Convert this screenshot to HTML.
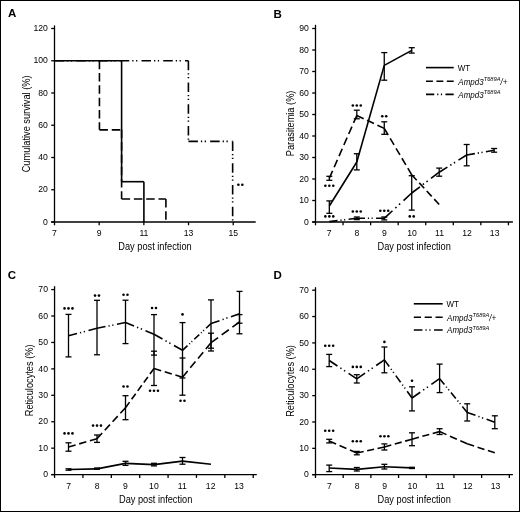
<!DOCTYPE html><html><head><meta charset="utf-8"><style>html,body{margin:0;padding:0;background:#fff;}svg{display:block;filter:grayscale(1);}</style></head><body>
<svg width="520" height="512" viewBox="0 0 520 512" font-family='"Liberation Sans", sans-serif' fill="#000" stroke="#000">
<rect x="0" y="0" width="520" height="512" fill="#fff" stroke="none"/>
<rect x="0.5" y="0.5" width="519" height="511" fill="none" stroke="#000" stroke-width="1"/>
<g stroke="none">
<text x="8" y="17.2" font-size="11.5" font-weight="bold">A</text>
<text x="273.6" y="17.6" font-size="11.5" font-weight="bold">B</text>
<text x="7.8" y="279.2" font-size="11.5" font-weight="bold">C</text>
<text x="273.6" y="279.2" font-size="11.5" font-weight="bold">D</text>
</g>
<g fill="none">
<line x1="54.5" y1="25.4" x2="54.5" y2="225.3" stroke-width="1.3" stroke-linecap="butt"/>
<line x1="51.2" y1="222" x2="255.7" y2="222" stroke-width="1.3" stroke-linecap="butt"/>
<line x1="51.2" y1="222" x2="54.5" y2="222" stroke-width="1.3" stroke-linecap="butt"/>
<line x1="51.2" y1="189.75" x2="54.5" y2="189.75" stroke-width="1.3" stroke-linecap="butt"/>
<line x1="51.2" y1="157.5" x2="54.5" y2="157.5" stroke-width="1.3" stroke-linecap="butt"/>
<line x1="51.2" y1="125.25" x2="54.5" y2="125.25" stroke-width="1.3" stroke-linecap="butt"/>
<line x1="51.2" y1="93" x2="54.5" y2="93" stroke-width="1.3" stroke-linecap="butt"/>
<line x1="51.2" y1="60.75" x2="54.5" y2="60.75" stroke-width="1.3" stroke-linecap="butt"/>
<line x1="51.2" y1="28.5" x2="54.5" y2="28.5" stroke-width="1.3" stroke-linecap="butt"/>
<line x1="99.18" y1="222" x2="99.18" y2="225.3" stroke-width="1.3" stroke-linecap="butt"/>
<line x1="143.86" y1="222" x2="143.86" y2="225.3" stroke-width="1.3" stroke-linecap="butt"/>
<line x1="188.54" y1="222" x2="188.54" y2="225.3" stroke-width="1.3" stroke-linecap="butt"/>
<line x1="233.22" y1="222" x2="233.22" y2="225.3" stroke-width="1.3" stroke-linecap="butt"/>
<line x1="54.5" y1="60.75" x2="121.6" y2="60.75" stroke-width="1.6" stroke-linecap="butt"/>
<line x1="121.6" y1="60.75" x2="121.6" y2="181.69" stroke-width="1.6" stroke-linecap="butt"/>
<line x1="121.6" y1="181.69" x2="143.9" y2="181.69" stroke-width="1.6" stroke-linecap="butt"/>
<line x1="143.9" y1="181.69" x2="143.9" y2="222" stroke-width="1.6" stroke-linecap="butt"/>
<line x1="99.44" y1="60.75" x2="99.44" y2="129.86" stroke-width="1.6" stroke-dasharray="8.5 3.8" stroke-linecap="butt"/>
<line x1="99.44" y1="129.86" x2="121.6" y2="129.86" stroke-width="1.6" stroke-dasharray="8.5 3.8" stroke-linecap="butt"/>
<line x1="121.6" y1="129.86" x2="121.6" y2="198.96" stroke-width="1.6" stroke-dasharray="8.5 3.8" stroke-linecap="butt"/>
<line x1="121.6" y1="198.96" x2="165.9" y2="198.96" stroke-width="1.6" stroke-dasharray="8.5 3.8" stroke-linecap="butt"/>
<line x1="165.9" y1="198.96" x2="165.9" y2="222" stroke-width="1.6" stroke-dasharray="8.5 3.8" stroke-linecap="butt"/>
<line x1="54.5" y1="60.75" x2="188.4" y2="60.75" stroke-width="1.6" stroke-dasharray="9.5 3 1.3 2.5 1.3 4.15" stroke-linecap="butt"/>
<line x1="188.4" y1="60.75" x2="188.4" y2="141.38" stroke-width="1.6" stroke-dasharray="9.5 3 1.3 2.5 1.3 4.15" stroke-linecap="butt"/>
<line x1="188.4" y1="141.38" x2="232.65" y2="141.38" stroke-width="1.6" stroke-dasharray="9.5 3 1.3 2.5 1.3 4.15" stroke-linecap="butt"/>
<line x1="232.65" y1="141.38" x2="232.65" y2="222" stroke-width="1.6" stroke-dasharray="9.5 3 1.3 2.5 1.3 4.15" stroke-linecap="butt"/>
</g>
<g stroke="none">
<text transform="translate(47.8 224.7) scale(0.94 1)" font-size="9.2" text-anchor="end" font-weight="normal" font-style="normal">0</text>
<text transform="translate(47.8 192.45) scale(0.94 1)" font-size="9.2" text-anchor="end" font-weight="normal" font-style="normal">20</text>
<text transform="translate(47.8 160.2) scale(0.94 1)" font-size="9.2" text-anchor="end" font-weight="normal" font-style="normal">40</text>
<text transform="translate(47.8 127.95) scale(0.94 1)" font-size="9.2" text-anchor="end" font-weight="normal" font-style="normal">60</text>
<text transform="translate(47.8 95.7) scale(0.94 1)" font-size="9.2" text-anchor="end" font-weight="normal" font-style="normal">80</text>
<text transform="translate(47.8 63.45) scale(0.94 1)" font-size="9.2" text-anchor="end" font-weight="normal" font-style="normal">100</text>
<text transform="translate(47.8 31.2) scale(0.94 1)" font-size="9.2" text-anchor="end" font-weight="normal" font-style="normal">120</text>
<text transform="translate(54.5 235.6) scale(0.94 1)" font-size="9.2" text-anchor="middle" font-weight="normal" font-style="normal">7</text>
<text transform="translate(99.18 235.6) scale(0.94 1)" font-size="9.2" text-anchor="middle" font-weight="normal" font-style="normal">9</text>
<text transform="translate(143.86 235.6) scale(0.94 1)" font-size="9.2" text-anchor="middle" font-weight="normal" font-style="normal">11</text>
<text transform="translate(188.54 235.6) scale(0.94 1)" font-size="9.2" text-anchor="middle" font-weight="normal" font-style="normal">13</text>
<text transform="translate(233.22 235.6) scale(0.94 1)" font-size="9.2" text-anchor="middle" font-weight="normal" font-style="normal">15</text>
<text transform="translate(155 249.7) scale(0.88 1)" font-size="10.5" text-anchor="middle" font-weight="normal" font-style="normal">Day post infection</text>
<text transform="translate(30.3 123.9) rotate(-90) scale(0.88 1)" font-size="10.5" text-anchor="middle" font-weight="normal" font-style="normal">Cumulative survival (%)</text>
<circle cx="238.38" cy="184.8" r="1.3"/>
<circle cx="242.32" cy="184.8" r="1.3"/>
</g>
<g fill="none">
<line x1="315.5" y1="24.8" x2="315.5" y2="225.3" stroke-width="1.3" stroke-linecap="butt"/>
<line x1="312.2" y1="222" x2="512.9" y2="222" stroke-width="1.3" stroke-linecap="butt"/>
<line x1="312.2" y1="222" x2="315.5" y2="222" stroke-width="1.3" stroke-linecap="butt"/>
<line x1="312.2" y1="200.5" x2="315.5" y2="200.5" stroke-width="1.3" stroke-linecap="butt"/>
<line x1="312.2" y1="179" x2="315.5" y2="179" stroke-width="1.3" stroke-linecap="butt"/>
<line x1="312.2" y1="157.5" x2="315.5" y2="157.5" stroke-width="1.3" stroke-linecap="butt"/>
<line x1="312.2" y1="136" x2="315.5" y2="136" stroke-width="1.3" stroke-linecap="butt"/>
<line x1="312.2" y1="114.5" x2="315.5" y2="114.5" stroke-width="1.3" stroke-linecap="butt"/>
<line x1="312.2" y1="93" x2="315.5" y2="93" stroke-width="1.3" stroke-linecap="butt"/>
<line x1="312.2" y1="71.5" x2="315.5" y2="71.5" stroke-width="1.3" stroke-linecap="butt"/>
<line x1="312.2" y1="50" x2="315.5" y2="50" stroke-width="1.3" stroke-linecap="butt"/>
<line x1="312.2" y1="28.5" x2="315.5" y2="28.5" stroke-width="1.3" stroke-linecap="butt"/>
<line x1="343.06" y1="222" x2="343.06" y2="225.3" stroke-width="1.3" stroke-linecap="butt"/>
<line x1="370.62" y1="222" x2="370.62" y2="225.3" stroke-width="1.3" stroke-linecap="butt"/>
<line x1="398.18" y1="222" x2="398.18" y2="225.3" stroke-width="1.3" stroke-linecap="butt"/>
<line x1="425.74" y1="222" x2="425.74" y2="225.3" stroke-width="1.3" stroke-linecap="butt"/>
<line x1="453.3" y1="222" x2="453.3" y2="225.3" stroke-width="1.3" stroke-linecap="butt"/>
<line x1="480.86" y1="222" x2="480.86" y2="225.3" stroke-width="1.3" stroke-linecap="butt"/>
<line x1="508.42" y1="222" x2="508.42" y2="225.3" stroke-width="1.3" stroke-linecap="butt"/>
<line x1="329.32" y1="206" x2="356.79" y2="162" stroke-width="1.6" stroke-linecap="butt"/>
<line x1="356.79" y1="162" x2="384.26" y2="65.4" stroke-width="1.6" stroke-linecap="butt"/>
<line x1="384.26" y1="65.4" x2="411.73" y2="50.4" stroke-width="1.6" stroke-linecap="butt"/>
<line x1="329.32" y1="200.9" x2="329.32" y2="213.3" stroke-width="1.3" stroke-linecap="butt"/>
<line x1="326.32" y1="200.9" x2="332.32" y2="200.9" stroke-width="1.3" stroke-linecap="butt"/>
<line x1="326.32" y1="213.3" x2="332.32" y2="213.3" stroke-width="1.3" stroke-linecap="butt"/>
<line x1="356.79" y1="153.75" x2="356.79" y2="169.9" stroke-width="1.3" stroke-linecap="butt"/>
<line x1="353.79" y1="153.75" x2="359.79" y2="153.75" stroke-width="1.3" stroke-linecap="butt"/>
<line x1="353.79" y1="169.9" x2="359.79" y2="169.9" stroke-width="1.3" stroke-linecap="butt"/>
<line x1="384.26" y1="52.6" x2="384.26" y2="80.2" stroke-width="1.3" stroke-linecap="butt"/>
<line x1="381.26" y1="52.6" x2="387.26" y2="52.6" stroke-width="1.3" stroke-linecap="butt"/>
<line x1="381.26" y1="80.2" x2="387.26" y2="80.2" stroke-width="1.3" stroke-linecap="butt"/>
<line x1="411.73" y1="47.7" x2="411.73" y2="53.1" stroke-width="1.3" stroke-linecap="butt"/>
<line x1="408.73" y1="47.7" x2="414.73" y2="47.7" stroke-width="1.3" stroke-linecap="butt"/>
<line x1="408.73" y1="53.1" x2="414.73" y2="53.1" stroke-width="1.3" stroke-linecap="butt"/>
<line x1="329.32" y1="178.3" x2="356.79" y2="115.5" stroke-width="1.6" stroke-dasharray="8.03 4.07" stroke-linecap="butt"/>
<line x1="356.79" y1="115.5" x2="384.26" y2="128.4" stroke-width="1.6" stroke-dasharray="7.56 3.83" stroke-linecap="butt"/>
<line x1="384.26" y1="128.4" x2="411.73" y2="174.8" stroke-width="1.6" stroke-dasharray="7.67 3.89" stroke-linecap="butt"/>
<line x1="411.73" y1="174.8" x2="439.2" y2="204.5" stroke-width="1.6" stroke-dasharray="7.33 3.71" stroke-linecap="butt"/>
<line x1="329.32" y1="176.3" x2="329.32" y2="180.3" stroke-width="1.3" stroke-linecap="butt"/>
<line x1="326.32" y1="176.3" x2="332.32" y2="176.3" stroke-width="1.3" stroke-linecap="butt"/>
<line x1="326.32" y1="180.3" x2="332.32" y2="180.3" stroke-width="1.3" stroke-linecap="butt"/>
<line x1="356.79" y1="110.2" x2="356.79" y2="118.8" stroke-width="1.3" stroke-linecap="butt"/>
<line x1="353.79" y1="110.2" x2="359.79" y2="110.2" stroke-width="1.3" stroke-linecap="butt"/>
<line x1="353.79" y1="118.8" x2="359.79" y2="118.8" stroke-width="1.3" stroke-linecap="butt"/>
<line x1="384.26" y1="121.8" x2="384.26" y2="134.3" stroke-width="1.3" stroke-linecap="butt"/>
<line x1="381.26" y1="121.8" x2="387.26" y2="121.8" stroke-width="1.3" stroke-linecap="butt"/>
<line x1="381.26" y1="134.3" x2="387.26" y2="134.3" stroke-width="1.3" stroke-linecap="butt"/>
<line x1="329.32" y1="221.6" x2="356.79" y2="218.3" stroke-width="1.6" stroke-dasharray="8.25 2.91 1.16 2.52 1.16 3.4" stroke-linecap="butt"/>
<line x1="356.79" y1="218.3" x2="384.26" y2="218.3" stroke-width="1.6" stroke-dasharray="8.19 2.89 1.16 2.51 1.16 3.37" stroke-linecap="butt"/>
<line x1="384.26" y1="218.3" x2="411.73" y2="193" stroke-width="1.6" stroke-dasharray="11.14 3.93 1.57 3.41 1.57 4.59" stroke-linecap="butt"/>
<line x1="411.73" y1="193" x2="439.2" y2="172.2" stroke-width="1.6" stroke-dasharray="10.28 3.63 1.45 3.14 1.45 4.23" stroke-linecap="butt"/>
<line x1="439.2" y1="172.2" x2="466.67" y2="155" stroke-width="1.6" stroke-dasharray="9.67 3.41 1.36 2.96 1.36 3.98" stroke-linecap="butt"/>
<line x1="466.67" y1="155" x2="494.14" y2="150.3" stroke-width="1.6" stroke-dasharray="8.31 2.93 1.17 2.54 1.17 3.42" stroke-linecap="butt"/>
<line x1="356.79" y1="217" x2="356.79" y2="219.6" stroke-width="1.3" stroke-linecap="butt"/>
<line x1="353.79" y1="217" x2="359.79" y2="217" stroke-width="1.3" stroke-linecap="butt"/>
<line x1="353.79" y1="219.6" x2="359.79" y2="219.6" stroke-width="1.3" stroke-linecap="butt"/>
<line x1="384.26" y1="217" x2="384.26" y2="219.9" stroke-width="1.3" stroke-linecap="butt"/>
<line x1="381.26" y1="217" x2="387.26" y2="217" stroke-width="1.3" stroke-linecap="butt"/>
<line x1="381.26" y1="219.9" x2="387.26" y2="219.9" stroke-width="1.3" stroke-linecap="butt"/>
<line x1="411.73" y1="175.7" x2="411.73" y2="210.1" stroke-width="1.3" stroke-linecap="butt"/>
<line x1="408.73" y1="175.7" x2="414.73" y2="175.7" stroke-width="1.3" stroke-linecap="butt"/>
<line x1="408.73" y1="210.1" x2="414.73" y2="210.1" stroke-width="1.3" stroke-linecap="butt"/>
<line x1="439.2" y1="168.1" x2="439.2" y2="176.2" stroke-width="1.3" stroke-linecap="butt"/>
<line x1="436.2" y1="168.1" x2="442.2" y2="168.1" stroke-width="1.3" stroke-linecap="butt"/>
<line x1="436.2" y1="176.2" x2="442.2" y2="176.2" stroke-width="1.3" stroke-linecap="butt"/>
<line x1="466.67" y1="144.5" x2="466.67" y2="165.8" stroke-width="1.3" stroke-linecap="butt"/>
<line x1="463.67" y1="144.5" x2="469.67" y2="144.5" stroke-width="1.3" stroke-linecap="butt"/>
<line x1="463.67" y1="165.8" x2="469.67" y2="165.8" stroke-width="1.3" stroke-linecap="butt"/>
<line x1="494.14" y1="148.5" x2="494.14" y2="152.2" stroke-width="1.3" stroke-linecap="butt"/>
<line x1="491.14" y1="148.5" x2="497.14" y2="148.5" stroke-width="1.3" stroke-linecap="butt"/>
<line x1="491.14" y1="152.2" x2="497.14" y2="152.2" stroke-width="1.3" stroke-linecap="butt"/>
</g>
<g stroke="none">
<text transform="translate(308.9 224.7) scale(0.94 1)" font-size="9.2" text-anchor="end" font-weight="normal" font-style="normal">0</text>
<text transform="translate(308.9 203.2) scale(0.94 1)" font-size="9.2" text-anchor="end" font-weight="normal" font-style="normal">10</text>
<text transform="translate(308.9 181.7) scale(0.94 1)" font-size="9.2" text-anchor="end" font-weight="normal" font-style="normal">20</text>
<text transform="translate(308.9 160.2) scale(0.94 1)" font-size="9.2" text-anchor="end" font-weight="normal" font-style="normal">30</text>
<text transform="translate(308.9 138.7) scale(0.94 1)" font-size="9.2" text-anchor="end" font-weight="normal" font-style="normal">40</text>
<text transform="translate(308.9 117.2) scale(0.94 1)" font-size="9.2" text-anchor="end" font-weight="normal" font-style="normal">50</text>
<text transform="translate(308.9 95.7) scale(0.94 1)" font-size="9.2" text-anchor="end" font-weight="normal" font-style="normal">60</text>
<text transform="translate(308.9 74.2) scale(0.94 1)" font-size="9.2" text-anchor="end" font-weight="normal" font-style="normal">70</text>
<text transform="translate(308.9 52.7) scale(0.94 1)" font-size="9.2" text-anchor="end" font-weight="normal" font-style="normal">80</text>
<text transform="translate(308.9 31.2) scale(0.94 1)" font-size="9.2" text-anchor="end" font-weight="normal" font-style="normal">90</text>
<text transform="translate(329.28 235.9) scale(0.94 1)" font-size="9.2" text-anchor="middle" font-weight="normal" font-style="normal">7</text>
<text transform="translate(356.84 235.9) scale(0.94 1)" font-size="9.2" text-anchor="middle" font-weight="normal" font-style="normal">8</text>
<text transform="translate(384.4 235.9) scale(0.94 1)" font-size="9.2" text-anchor="middle" font-weight="normal" font-style="normal">9</text>
<text transform="translate(411.96 235.9) scale(0.94 1)" font-size="9.2" text-anchor="middle" font-weight="normal" font-style="normal">10</text>
<text transform="translate(439.52 235.9) scale(0.94 1)" font-size="9.2" text-anchor="middle" font-weight="normal" font-style="normal">11</text>
<text transform="translate(467.08 235.9) scale(0.94 1)" font-size="9.2" text-anchor="middle" font-weight="normal" font-style="normal">12</text>
<text transform="translate(494.64 235.9) scale(0.94 1)" font-size="9.2" text-anchor="middle" font-weight="normal" font-style="normal">13</text>
<text transform="translate(414.2 250) scale(0.88 1)" font-size="10.5" text-anchor="middle" font-weight="normal" font-style="normal">Day post infection</text>
<text transform="translate(294.1 123.4) rotate(-90) scale(0.88 1)" font-size="10.5" text-anchor="middle" font-weight="normal" font-style="normal">Parasitemia (%)</text>
<circle cx="325.37" cy="185.8" r="1.3"/>
<circle cx="329.32" cy="185.8" r="1.3"/>
<circle cx="333.27" cy="185.8" r="1.3"/>
<circle cx="325.37" cy="216.4" r="1.3"/>
<circle cx="329.32" cy="216.4" r="1.3"/>
<circle cx="333.27" cy="216.4" r="1.3"/>
<circle cx="352.84" cy="105.5" r="1.3"/>
<circle cx="356.79" cy="105.5" r="1.3"/>
<circle cx="360.74" cy="105.5" r="1.3"/>
<circle cx="352.84" cy="211.5" r="1.3"/>
<circle cx="356.79" cy="211.5" r="1.3"/>
<circle cx="360.74" cy="211.5" r="1.3"/>
<circle cx="382.28" cy="116.3" r="1.3"/>
<circle cx="386.23" cy="116.3" r="1.3"/>
<circle cx="380.31" cy="210.8" r="1.3"/>
<circle cx="384.26" cy="210.8" r="1.3"/>
<circle cx="388.21" cy="210.8" r="1.3"/>
<circle cx="409.75" cy="216.4" r="1.3"/>
<circle cx="413.7" cy="216.4" r="1.3"/>
</g>
<g fill="none">
<line x1="426" y1="67.6" x2="453.7" y2="67.6" stroke-width="1.6" stroke-linecap="butt"/>
<line x1="426" y1="81.3" x2="453.7" y2="81.3" stroke-width="1.6" stroke-dasharray="6.9 3.5" stroke-linecap="butt"/>
<line x1="426" y1="94.4" x2="453.7" y2="94.4" stroke-width="1.6" stroke-dasharray="8.26 2.92 1.17 2.53 1.17 3.4" stroke-linecap="butt"/>
</g>
<g stroke="none" font-size="8.6">
<text x="457.7" y="71.2" transform="translate(457.7 0) scale(0.93 1) translate(-457.7 0)">WT</text>
<text x="0" y="0" transform="translate(458.3 84.5) scale(0.93 1)" font-style="italic">Ampd3<tspan font-size="6.2" dy="-3.4">T689A</tspan><tspan dy="3.4">/+</tspan></text>
<text x="0" y="0" transform="translate(458.3 97.6) scale(0.93 1)" font-style="italic">Ampd3<tspan font-size="6.2" dy="-3.4">T689A</tspan></text>
</g>
<g fill="none">
<line x1="54.56" y1="286.2" x2="54.56" y2="477.9" stroke-width="1.3" stroke-linecap="butt"/>
<line x1="51.26" y1="474.6" x2="256.8" y2="474.6" stroke-width="1.3" stroke-linecap="butt"/>
<line x1="51.26" y1="474.6" x2="54.56" y2="474.6" stroke-width="1.3" stroke-linecap="butt"/>
<line x1="51.26" y1="448.17" x2="54.56" y2="448.17" stroke-width="1.3" stroke-linecap="butt"/>
<line x1="51.26" y1="421.74" x2="54.56" y2="421.74" stroke-width="1.3" stroke-linecap="butt"/>
<line x1="51.26" y1="395.31" x2="54.56" y2="395.31" stroke-width="1.3" stroke-linecap="butt"/>
<line x1="51.26" y1="368.88" x2="54.56" y2="368.88" stroke-width="1.3" stroke-linecap="butt"/>
<line x1="51.26" y1="342.45" x2="54.56" y2="342.45" stroke-width="1.3" stroke-linecap="butt"/>
<line x1="51.26" y1="316.02" x2="54.56" y2="316.02" stroke-width="1.3" stroke-linecap="butt"/>
<line x1="51.26" y1="289.59" x2="54.56" y2="289.59" stroke-width="1.3" stroke-linecap="butt"/>
<line x1="82.94" y1="474.6" x2="82.94" y2="477.9" stroke-width="1.3" stroke-linecap="butt"/>
<line x1="111.32" y1="474.6" x2="111.32" y2="477.9" stroke-width="1.3" stroke-linecap="butt"/>
<line x1="139.7" y1="474.6" x2="139.7" y2="477.9" stroke-width="1.3" stroke-linecap="butt"/>
<line x1="168.08" y1="474.6" x2="168.08" y2="477.9" stroke-width="1.3" stroke-linecap="butt"/>
<line x1="196.46" y1="474.6" x2="196.46" y2="477.9" stroke-width="1.3" stroke-linecap="butt"/>
<line x1="224.84" y1="474.6" x2="224.84" y2="477.9" stroke-width="1.3" stroke-linecap="butt"/>
<line x1="253.22" y1="474.6" x2="253.22" y2="477.9" stroke-width="1.3" stroke-linecap="butt"/>
<line x1="68.5" y1="469.5" x2="97" y2="468.9" stroke-width="1.6" stroke-linecap="butt"/>
<line x1="97" y1="468.9" x2="125.5" y2="463.4" stroke-width="1.6" stroke-linecap="butt"/>
<line x1="125.5" y1="463.4" x2="154" y2="464.6" stroke-width="1.6" stroke-linecap="butt"/>
<line x1="154" y1="464.6" x2="182.5" y2="461.1" stroke-width="1.6" stroke-linecap="butt"/>
<line x1="182.5" y1="461.1" x2="211" y2="464.2" stroke-width="1.6" stroke-linecap="butt"/>
<line x1="68.5" y1="468.8" x2="68.5" y2="470.2" stroke-width="1.3" stroke-linecap="butt"/>
<line x1="65.5" y1="468.8" x2="71.5" y2="468.8" stroke-width="1.3" stroke-linecap="butt"/>
<line x1="65.5" y1="470.2" x2="71.5" y2="470.2" stroke-width="1.3" stroke-linecap="butt"/>
<line x1="97" y1="468" x2="97" y2="469.2" stroke-width="1.3" stroke-linecap="butt"/>
<line x1="94" y1="468" x2="100" y2="468" stroke-width="1.3" stroke-linecap="butt"/>
<line x1="94" y1="469.2" x2="100" y2="469.2" stroke-width="1.3" stroke-linecap="butt"/>
<line x1="125.5" y1="461.3" x2="125.5" y2="465.4" stroke-width="1.3" stroke-linecap="butt"/>
<line x1="122.5" y1="461.3" x2="128.5" y2="461.3" stroke-width="1.3" stroke-linecap="butt"/>
<line x1="122.5" y1="465.4" x2="128.5" y2="465.4" stroke-width="1.3" stroke-linecap="butt"/>
<line x1="154" y1="463.3" x2="154" y2="465.9" stroke-width="1.3" stroke-linecap="butt"/>
<line x1="151" y1="463.3" x2="157" y2="463.3" stroke-width="1.3" stroke-linecap="butt"/>
<line x1="151" y1="465.9" x2="157" y2="465.9" stroke-width="1.3" stroke-linecap="butt"/>
<line x1="182.5" y1="457.5" x2="182.5" y2="464.2" stroke-width="1.3" stroke-linecap="butt"/>
<line x1="179.5" y1="457.5" x2="185.5" y2="457.5" stroke-width="1.3" stroke-linecap="butt"/>
<line x1="179.5" y1="464.2" x2="185.5" y2="464.2" stroke-width="1.3" stroke-linecap="butt"/>
<line x1="68.5" y1="447" x2="97" y2="438.7" stroke-width="1.6" stroke-dasharray="7.4 3.75" stroke-linecap="butt"/>
<line x1="97" y1="438.7" x2="125.5" y2="407.7" stroke-width="1.6" stroke-dasharray="7.63 3.87" stroke-linecap="butt"/>
<line x1="125.5" y1="407.7" x2="154" y2="368.5" stroke-width="1.6" stroke-dasharray="6.9 3.49" stroke-linecap="butt"/>
<line x1="154" y1="368.5" x2="182.5" y2="377.3" stroke-width="1.6" stroke-dasharray="7.43 3.77" stroke-linecap="butt"/>
<line x1="182.5" y1="377.3" x2="211" y2="342.7" stroke-width="1.6" stroke-dasharray="8.12 4.11" stroke-linecap="butt"/>
<line x1="211" y1="342.7" x2="239.5" y2="322" stroke-width="1.6" stroke-dasharray="8.78 4.45" stroke-linecap="butt"/>
<line x1="68.5" y1="442.8" x2="68.5" y2="451.2" stroke-width="1.3" stroke-linecap="butt"/>
<line x1="65.5" y1="442.8" x2="71.5" y2="442.8" stroke-width="1.3" stroke-linecap="butt"/>
<line x1="65.5" y1="451.2" x2="71.5" y2="451.2" stroke-width="1.3" stroke-linecap="butt"/>
<line x1="97" y1="435" x2="97" y2="442.4" stroke-width="1.3" stroke-linecap="butt"/>
<line x1="94" y1="435" x2="100" y2="435" stroke-width="1.3" stroke-linecap="butt"/>
<line x1="94" y1="442.4" x2="100" y2="442.4" stroke-width="1.3" stroke-linecap="butt"/>
<line x1="125.5" y1="395.7" x2="125.5" y2="419.7" stroke-width="1.3" stroke-linecap="butt"/>
<line x1="122.5" y1="395.7" x2="128.5" y2="395.7" stroke-width="1.3" stroke-linecap="butt"/>
<line x1="122.5" y1="419.7" x2="128.5" y2="419.7" stroke-width="1.3" stroke-linecap="butt"/>
<line x1="154" y1="351.2" x2="154" y2="385.5" stroke-width="1.3" stroke-linecap="butt"/>
<line x1="151" y1="351.2" x2="157" y2="351.2" stroke-width="1.3" stroke-linecap="butt"/>
<line x1="151" y1="385.5" x2="157" y2="385.5" stroke-width="1.3" stroke-linecap="butt"/>
<line x1="182.5" y1="358" x2="182.5" y2="395.2" stroke-width="1.3" stroke-linecap="butt"/>
<line x1="179.5" y1="358" x2="185.5" y2="358" stroke-width="1.3" stroke-linecap="butt"/>
<line x1="179.5" y1="395.2" x2="185.5" y2="395.2" stroke-width="1.3" stroke-linecap="butt"/>
<line x1="211" y1="333.2" x2="211" y2="351" stroke-width="1.3" stroke-linecap="butt"/>
<line x1="208" y1="333.2" x2="214" y2="333.2" stroke-width="1.3" stroke-linecap="butt"/>
<line x1="208" y1="351" x2="214" y2="351" stroke-width="1.3" stroke-linecap="butt"/>
<line x1="239.5" y1="314.6" x2="239.5" y2="323.2" stroke-width="1.3" stroke-linecap="butt"/>
<line x1="236.5" y1="314.6" x2="242.5" y2="314.6" stroke-width="1.3" stroke-linecap="butt"/>
<line x1="236.5" y1="323.2" x2="242.5" y2="323.2" stroke-width="1.3" stroke-linecap="butt"/>
<line x1="68.5" y1="335.8" x2="97" y2="328.3" stroke-width="1.6" stroke-dasharray="8.79 3.1 1.24 2.69 1.24 3.62" stroke-linecap="butt"/>
<line x1="97" y1="328.3" x2="125.5" y2="322.5" stroke-width="1.6" stroke-dasharray="8.67 3.06 1.22 2.65 1.22 3.57" stroke-linecap="butt"/>
<line x1="125.5" y1="322.5" x2="154" y2="334.2" stroke-width="1.6" stroke-dasharray="9.19 3.24 1.3 2.81 1.3 3.78" stroke-linecap="butt"/>
<line x1="154" y1="334.2" x2="182.5" y2="350.3" stroke-width="1.6" stroke-dasharray="9.76 3.45 1.38 2.99 1.38 4.02" stroke-linecap="butt"/>
<line x1="182.5" y1="350.3" x2="211" y2="323.6" stroke-width="1.6" stroke-dasharray="6.84 2.42 0.97 2.09 0.97 2.82" stroke-linecap="butt"/>
<line x1="211" y1="323.6" x2="239.5" y2="313.7" stroke-width="1.6" stroke-dasharray="9 3.18 1.27 2.75 1.27 3.71" stroke-linecap="butt"/>
<line x1="68.5" y1="314.4" x2="68.5" y2="356.9" stroke-width="1.3" stroke-linecap="butt"/>
<line x1="65.5" y1="314.4" x2="71.5" y2="314.4" stroke-width="1.3" stroke-linecap="butt"/>
<line x1="65.5" y1="356.9" x2="71.5" y2="356.9" stroke-width="1.3" stroke-linecap="butt"/>
<line x1="97" y1="300.3" x2="97" y2="354.8" stroke-width="1.3" stroke-linecap="butt"/>
<line x1="94" y1="300.3" x2="100" y2="300.3" stroke-width="1.3" stroke-linecap="butt"/>
<line x1="94" y1="354.8" x2="100" y2="354.8" stroke-width="1.3" stroke-linecap="butt"/>
<line x1="125.5" y1="300.2" x2="125.5" y2="343.6" stroke-width="1.3" stroke-linecap="butt"/>
<line x1="122.5" y1="300.2" x2="128.5" y2="300.2" stroke-width="1.3" stroke-linecap="butt"/>
<line x1="122.5" y1="343.6" x2="128.5" y2="343.6" stroke-width="1.3" stroke-linecap="butt"/>
<line x1="154" y1="314.6" x2="154" y2="355.1" stroke-width="1.3" stroke-linecap="butt"/>
<line x1="151" y1="314.6" x2="157" y2="314.6" stroke-width="1.3" stroke-linecap="butt"/>
<line x1="151" y1="355.1" x2="157" y2="355.1" stroke-width="1.3" stroke-linecap="butt"/>
<line x1="182.5" y1="322.6" x2="182.5" y2="378" stroke-width="1.3" stroke-linecap="butt"/>
<line x1="179.5" y1="322.6" x2="185.5" y2="322.6" stroke-width="1.3" stroke-linecap="butt"/>
<line x1="179.5" y1="378" x2="185.5" y2="378" stroke-width="1.3" stroke-linecap="butt"/>
<line x1="211" y1="299.9" x2="211" y2="348.2" stroke-width="1.3" stroke-linecap="butt"/>
<line x1="208" y1="299.9" x2="214" y2="299.9" stroke-width="1.3" stroke-linecap="butt"/>
<line x1="208" y1="348.2" x2="214" y2="348.2" stroke-width="1.3" stroke-linecap="butt"/>
<line x1="239.5" y1="291.4" x2="239.5" y2="333.8" stroke-width="1.3" stroke-linecap="butt"/>
<line x1="236.5" y1="291.4" x2="242.5" y2="291.4" stroke-width="1.3" stroke-linecap="butt"/>
<line x1="236.5" y1="333.8" x2="242.5" y2="333.8" stroke-width="1.3" stroke-linecap="butt"/>
</g>
<g stroke="none">
<text transform="translate(47.96 477.3) scale(0.94 1)" font-size="9.2" text-anchor="end" font-weight="normal" font-style="normal">0</text>
<text transform="translate(47.96 450.87) scale(0.94 1)" font-size="9.2" text-anchor="end" font-weight="normal" font-style="normal">10</text>
<text transform="translate(47.96 424.44) scale(0.94 1)" font-size="9.2" text-anchor="end" font-weight="normal" font-style="normal">20</text>
<text transform="translate(47.96 398.01) scale(0.94 1)" font-size="9.2" text-anchor="end" font-weight="normal" font-style="normal">30</text>
<text transform="translate(47.96 371.58) scale(0.94 1)" font-size="9.2" text-anchor="end" font-weight="normal" font-style="normal">40</text>
<text transform="translate(47.96 345.15) scale(0.94 1)" font-size="9.2" text-anchor="end" font-weight="normal" font-style="normal">50</text>
<text transform="translate(47.96 318.72) scale(0.94 1)" font-size="9.2" text-anchor="end" font-weight="normal" font-style="normal">60</text>
<text transform="translate(47.96 292.29) scale(0.94 1)" font-size="9.2" text-anchor="end" font-weight="normal" font-style="normal">70</text>
<text transform="translate(68.75 488.5) scale(0.94 1)" font-size="9.2" text-anchor="middle" font-weight="normal" font-style="normal">7</text>
<text transform="translate(97.13 488.5) scale(0.94 1)" font-size="9.2" text-anchor="middle" font-weight="normal" font-style="normal">8</text>
<text transform="translate(125.51 488.5) scale(0.94 1)" font-size="9.2" text-anchor="middle" font-weight="normal" font-style="normal">9</text>
<text transform="translate(153.89 488.5) scale(0.94 1)" font-size="9.2" text-anchor="middle" font-weight="normal" font-style="normal">10</text>
<text transform="translate(182.27 488.5) scale(0.94 1)" font-size="9.2" text-anchor="middle" font-weight="normal" font-style="normal">11</text>
<text transform="translate(210.65 488.5) scale(0.94 1)" font-size="9.2" text-anchor="middle" font-weight="normal" font-style="normal">12</text>
<text transform="translate(239.03 488.5) scale(0.94 1)" font-size="9.2" text-anchor="middle" font-weight="normal" font-style="normal">13</text>
<text transform="translate(155.68 502.6) scale(0.88 1)" font-size="10.5" text-anchor="middle" font-weight="normal" font-style="normal">Day post infection</text>
<text transform="translate(32.8 380.4) rotate(-90) scale(0.88 1)" font-size="10.5" text-anchor="middle" font-weight="normal" font-style="normal">Reticulocytes (%)</text>
<circle cx="64.55" cy="308.4" r="1.3"/>
<circle cx="68.5" cy="308.4" r="1.3"/>
<circle cx="72.45" cy="308.4" r="1.3"/>
<circle cx="64.55" cy="433.4" r="1.3"/>
<circle cx="68.5" cy="433.4" r="1.3"/>
<circle cx="72.45" cy="433.4" r="1.3"/>
<circle cx="95.03" cy="295.6" r="1.3"/>
<circle cx="98.98" cy="295.6" r="1.3"/>
<circle cx="93.05" cy="425.6" r="1.3"/>
<circle cx="97" cy="425.6" r="1.3"/>
<circle cx="100.95" cy="425.6" r="1.3"/>
<circle cx="123.53" cy="294.7" r="1.3"/>
<circle cx="127.48" cy="294.7" r="1.3"/>
<circle cx="123.53" cy="386.5" r="1.3"/>
<circle cx="127.48" cy="386.5" r="1.3"/>
<circle cx="152.03" cy="308" r="1.3"/>
<circle cx="155.97" cy="308" r="1.3"/>
<circle cx="150.05" cy="390.8" r="1.3"/>
<circle cx="154" cy="390.8" r="1.3"/>
<circle cx="157.95" cy="390.8" r="1.3"/>
<circle cx="182.5" cy="314.4" r="1.3"/>
<circle cx="180.53" cy="400.7" r="1.3"/>
<circle cx="184.47" cy="400.7" r="1.3"/>
</g>
<g fill="none">
<line x1="315.5" y1="287.2" x2="315.5" y2="478" stroke-width="1.3" stroke-linecap="butt"/>
<line x1="312.2" y1="474.7" x2="512.9" y2="474.7" stroke-width="1.3" stroke-linecap="butt"/>
<line x1="312.2" y1="474.7" x2="315.5" y2="474.7" stroke-width="1.3" stroke-linecap="butt"/>
<line x1="312.2" y1="448.34" x2="315.5" y2="448.34" stroke-width="1.3" stroke-linecap="butt"/>
<line x1="312.2" y1="421.98" x2="315.5" y2="421.98" stroke-width="1.3" stroke-linecap="butt"/>
<line x1="312.2" y1="395.62" x2="315.5" y2="395.62" stroke-width="1.3" stroke-linecap="butt"/>
<line x1="312.2" y1="369.26" x2="315.5" y2="369.26" stroke-width="1.3" stroke-linecap="butt"/>
<line x1="312.2" y1="342.9" x2="315.5" y2="342.9" stroke-width="1.3" stroke-linecap="butt"/>
<line x1="312.2" y1="316.54" x2="315.5" y2="316.54" stroke-width="1.3" stroke-linecap="butt"/>
<line x1="312.2" y1="290.18" x2="315.5" y2="290.18" stroke-width="1.3" stroke-linecap="butt"/>
<line x1="343.19" y1="474.7" x2="343.19" y2="478" stroke-width="1.3" stroke-linecap="butt"/>
<line x1="370.88" y1="474.7" x2="370.88" y2="478" stroke-width="1.3" stroke-linecap="butt"/>
<line x1="398.57" y1="474.7" x2="398.57" y2="478" stroke-width="1.3" stroke-linecap="butt"/>
<line x1="426.26" y1="474.7" x2="426.26" y2="478" stroke-width="1.3" stroke-linecap="butt"/>
<line x1="453.95" y1="474.7" x2="453.95" y2="478" stroke-width="1.3" stroke-linecap="butt"/>
<line x1="481.64" y1="474.7" x2="481.64" y2="478" stroke-width="1.3" stroke-linecap="butt"/>
<line x1="509.33" y1="474.7" x2="509.33" y2="478" stroke-width="1.3" stroke-linecap="butt"/>
<line x1="329.2" y1="468" x2="356.8" y2="469.4" stroke-width="1.6" stroke-linecap="butt"/>
<line x1="356.8" y1="469.4" x2="384.4" y2="466.7" stroke-width="1.6" stroke-linecap="butt"/>
<line x1="384.4" y1="466.7" x2="412" y2="467.9" stroke-width="1.6" stroke-linecap="butt"/>
<line x1="329.2" y1="465.1" x2="329.2" y2="471.6" stroke-width="1.3" stroke-linecap="butt"/>
<line x1="326.2" y1="465.1" x2="332.2" y2="465.1" stroke-width="1.3" stroke-linecap="butt"/>
<line x1="326.2" y1="471.6" x2="332.2" y2="471.6" stroke-width="1.3" stroke-linecap="butt"/>
<line x1="356.8" y1="467.5" x2="356.8" y2="471" stroke-width="1.3" stroke-linecap="butt"/>
<line x1="353.8" y1="467.5" x2="359.8" y2="467.5" stroke-width="1.3" stroke-linecap="butt"/>
<line x1="353.8" y1="471" x2="359.8" y2="471" stroke-width="1.3" stroke-linecap="butt"/>
<line x1="384.4" y1="464.3" x2="384.4" y2="469" stroke-width="1.3" stroke-linecap="butt"/>
<line x1="381.4" y1="464.3" x2="387.4" y2="464.3" stroke-width="1.3" stroke-linecap="butt"/>
<line x1="381.4" y1="469" x2="387.4" y2="469" stroke-width="1.3" stroke-linecap="butt"/>
<line x1="412" y1="467.3" x2="412" y2="468.5" stroke-width="1.3" stroke-linecap="butt"/>
<line x1="409" y1="467.3" x2="415" y2="467.3" stroke-width="1.3" stroke-linecap="butt"/>
<line x1="409" y1="468.5" x2="415" y2="468.5" stroke-width="1.3" stroke-linecap="butt"/>
<line x1="329.2" y1="441.1" x2="356.8" y2="453" stroke-width="1.6" stroke-dasharray="7.49 3.79" stroke-linecap="butt"/>
<line x1="356.8" y1="453" x2="384.4" y2="447" stroke-width="1.6" stroke-dasharray="7.04 3.57" stroke-linecap="butt"/>
<line x1="384.4" y1="447" x2="412" y2="439.2" stroke-width="1.6" stroke-dasharray="7.15 3.62" stroke-linecap="butt"/>
<line x1="412" y1="439.2" x2="439.6" y2="431.6" stroke-width="1.6" stroke-dasharray="7.13 3.61" stroke-linecap="butt"/>
<line x1="439.6" y1="431.6" x2="467.2" y2="443.8" stroke-width="1.6" stroke-dasharray="7.52 3.81" stroke-linecap="butt"/>
<line x1="467.2" y1="443.8" x2="494.8" y2="452.8" stroke-width="1.6" stroke-dasharray="7.23 3.66" stroke-linecap="butt"/>
<line x1="329.2" y1="439.3" x2="329.2" y2="442.9" stroke-width="1.3" stroke-linecap="butt"/>
<line x1="326.2" y1="439.3" x2="332.2" y2="439.3" stroke-width="1.3" stroke-linecap="butt"/>
<line x1="326.2" y1="442.9" x2="332.2" y2="442.9" stroke-width="1.3" stroke-linecap="butt"/>
<line x1="356.8" y1="451.4" x2="356.8" y2="454.8" stroke-width="1.3" stroke-linecap="butt"/>
<line x1="353.8" y1="451.4" x2="359.8" y2="451.4" stroke-width="1.3" stroke-linecap="butt"/>
<line x1="353.8" y1="454.8" x2="359.8" y2="454.8" stroke-width="1.3" stroke-linecap="butt"/>
<line x1="384.4" y1="443.9" x2="384.4" y2="450" stroke-width="1.3" stroke-linecap="butt"/>
<line x1="381.4" y1="443.9" x2="387.4" y2="443.9" stroke-width="1.3" stroke-linecap="butt"/>
<line x1="381.4" y1="450" x2="387.4" y2="450" stroke-width="1.3" stroke-linecap="butt"/>
<line x1="412" y1="432.8" x2="412" y2="445.7" stroke-width="1.3" stroke-linecap="butt"/>
<line x1="409" y1="432.8" x2="415" y2="432.8" stroke-width="1.3" stroke-linecap="butt"/>
<line x1="409" y1="445.7" x2="415" y2="445.7" stroke-width="1.3" stroke-linecap="butt"/>
<line x1="439.6" y1="428.7" x2="439.6" y2="434.5" stroke-width="1.3" stroke-linecap="butt"/>
<line x1="436.6" y1="428.7" x2="442.6" y2="428.7" stroke-width="1.3" stroke-linecap="butt"/>
<line x1="436.6" y1="434.5" x2="442.6" y2="434.5" stroke-width="1.3" stroke-linecap="butt"/>
<line x1="329.2" y1="360.5" x2="356.8" y2="378.8" stroke-width="1.6" stroke-dasharray="9.88 3.49 1.39 3.02 1.39 4.07" stroke-linecap="butt"/>
<line x1="356.8" y1="378.8" x2="384.4" y2="359.9" stroke-width="1.6" stroke-dasharray="9.98 3.52 1.41 3.05 1.41 4.11" stroke-linecap="butt"/>
<line x1="384.4" y1="359.9" x2="412" y2="398" stroke-width="1.6" stroke-dasharray="8.25 2.91 1.16 2.52 1.16 3.4" stroke-linecap="butt"/>
<line x1="412" y1="398" x2="439.6" y2="378.7" stroke-width="1.6" stroke-dasharray="10.04 3.55 1.42 3.07 1.42 4.14" stroke-linecap="butt"/>
<line x1="439.6" y1="378.7" x2="467.2" y2="412.4" stroke-width="1.6" stroke-dasharray="7.63 2.69 1.08 2.34 1.08 3.14" stroke-linecap="butt"/>
<line x1="467.2" y1="412.4" x2="494.8" y2="422.3" stroke-width="1.6" stroke-dasharray="8.75 3.09 1.23 2.67 1.23 3.6" stroke-linecap="butt"/>
<line x1="329.2" y1="354.4" x2="329.2" y2="366.6" stroke-width="1.3" stroke-linecap="butt"/>
<line x1="326.2" y1="354.4" x2="332.2" y2="354.4" stroke-width="1.3" stroke-linecap="butt"/>
<line x1="326.2" y1="366.6" x2="332.2" y2="366.6" stroke-width="1.3" stroke-linecap="butt"/>
<line x1="356.8" y1="374.7" x2="356.8" y2="383" stroke-width="1.3" stroke-linecap="butt"/>
<line x1="353.8" y1="374.7" x2="359.8" y2="374.7" stroke-width="1.3" stroke-linecap="butt"/>
<line x1="353.8" y1="383" x2="359.8" y2="383" stroke-width="1.3" stroke-linecap="butt"/>
<line x1="384.4" y1="347" x2="384.4" y2="372.8" stroke-width="1.3" stroke-linecap="butt"/>
<line x1="381.4" y1="347" x2="387.4" y2="347" stroke-width="1.3" stroke-linecap="butt"/>
<line x1="381.4" y1="372.8" x2="387.4" y2="372.8" stroke-width="1.3" stroke-linecap="butt"/>
<line x1="412" y1="386.8" x2="412" y2="410.9" stroke-width="1.3" stroke-linecap="butt"/>
<line x1="409" y1="386.8" x2="415" y2="386.8" stroke-width="1.3" stroke-linecap="butt"/>
<line x1="409" y1="410.9" x2="415" y2="410.9" stroke-width="1.3" stroke-linecap="butt"/>
<line x1="439.6" y1="364.1" x2="439.6" y2="392.6" stroke-width="1.3" stroke-linecap="butt"/>
<line x1="436.6" y1="364.1" x2="442.6" y2="364.1" stroke-width="1.3" stroke-linecap="butt"/>
<line x1="436.6" y1="392.6" x2="442.6" y2="392.6" stroke-width="1.3" stroke-linecap="butt"/>
<line x1="467.2" y1="403.8" x2="467.2" y2="421" stroke-width="1.3" stroke-linecap="butt"/>
<line x1="464.2" y1="403.8" x2="470.2" y2="403.8" stroke-width="1.3" stroke-linecap="butt"/>
<line x1="464.2" y1="421" x2="470.2" y2="421" stroke-width="1.3" stroke-linecap="butt"/>
<line x1="494.8" y1="415.8" x2="494.8" y2="428.7" stroke-width="1.3" stroke-linecap="butt"/>
<line x1="491.8" y1="415.8" x2="497.8" y2="415.8" stroke-width="1.3" stroke-linecap="butt"/>
<line x1="491.8" y1="428.7" x2="497.8" y2="428.7" stroke-width="1.3" stroke-linecap="butt"/>
</g>
<g stroke="none">
<text transform="translate(308.9 477.4) scale(0.94 1)" font-size="9.2" text-anchor="end" font-weight="normal" font-style="normal">0</text>
<text transform="translate(308.9 451.04) scale(0.94 1)" font-size="9.2" text-anchor="end" font-weight="normal" font-style="normal">10</text>
<text transform="translate(308.9 424.68) scale(0.94 1)" font-size="9.2" text-anchor="end" font-weight="normal" font-style="normal">20</text>
<text transform="translate(308.9 398.32) scale(0.94 1)" font-size="9.2" text-anchor="end" font-weight="normal" font-style="normal">30</text>
<text transform="translate(308.9 371.96) scale(0.94 1)" font-size="9.2" text-anchor="end" font-weight="normal" font-style="normal">40</text>
<text transform="translate(308.9 345.6) scale(0.94 1)" font-size="9.2" text-anchor="end" font-weight="normal" font-style="normal">50</text>
<text transform="translate(308.9 319.24) scale(0.94 1)" font-size="9.2" text-anchor="end" font-weight="normal" font-style="normal">60</text>
<text transform="translate(308.9 292.88) scale(0.94 1)" font-size="9.2" text-anchor="end" font-weight="normal" font-style="normal">70</text>
<text transform="translate(329.35 488.6) scale(0.94 1)" font-size="9.2" text-anchor="middle" font-weight="normal" font-style="normal">7</text>
<text transform="translate(357.04 488.6) scale(0.94 1)" font-size="9.2" text-anchor="middle" font-weight="normal" font-style="normal">8</text>
<text transform="translate(384.73 488.6) scale(0.94 1)" font-size="9.2" text-anchor="middle" font-weight="normal" font-style="normal">9</text>
<text transform="translate(412.42 488.6) scale(0.94 1)" font-size="9.2" text-anchor="middle" font-weight="normal" font-style="normal">10</text>
<text transform="translate(440.11 488.6) scale(0.94 1)" font-size="9.2" text-anchor="middle" font-weight="normal" font-style="normal">11</text>
<text transform="translate(467.8 488.6) scale(0.94 1)" font-size="9.2" text-anchor="middle" font-weight="normal" font-style="normal">12</text>
<text transform="translate(495.49 488.6) scale(0.94 1)" font-size="9.2" text-anchor="middle" font-weight="normal" font-style="normal">13</text>
<text transform="translate(414.2 502.7) scale(0.88 1)" font-size="10.5" text-anchor="middle" font-weight="normal" font-style="normal">Day post infection</text>
<text transform="translate(294.3 380.95) rotate(-90) scale(0.88 1)" font-size="10.5" text-anchor="middle" font-weight="normal" font-style="normal">Reticulocytes (%)</text>
<circle cx="325.25" cy="345.8" r="1.3"/>
<circle cx="329.2" cy="345.8" r="1.3"/>
<circle cx="333.15" cy="345.8" r="1.3"/>
<circle cx="325.25" cy="430.8" r="1.3"/>
<circle cx="329.2" cy="430.8" r="1.3"/>
<circle cx="333.15" cy="430.8" r="1.3"/>
<circle cx="352.85" cy="366.9" r="1.3"/>
<circle cx="356.8" cy="366.9" r="1.3"/>
<circle cx="360.75" cy="366.9" r="1.3"/>
<circle cx="352.85" cy="441.3" r="1.3"/>
<circle cx="356.8" cy="441.3" r="1.3"/>
<circle cx="360.75" cy="441.3" r="1.3"/>
<circle cx="384.4" cy="341.9" r="1.3"/>
<circle cx="380.45" cy="436.2" r="1.3"/>
<circle cx="384.4" cy="436.2" r="1.3"/>
<circle cx="388.35" cy="436.2" r="1.3"/>
<circle cx="412" cy="380.8" r="1.3"/>
</g>
<g fill="none">
<line x1="413.8" y1="303.8" x2="442.7" y2="303.8" stroke-width="1.6" stroke-linecap="butt"/>
<line x1="413.8" y1="317.3" x2="442.7" y2="317.3" stroke-width="1.6" stroke-dasharray="7.2 3.65" stroke-linecap="butt"/>
<line x1="413.8" y1="330" x2="442.7" y2="330" stroke-width="1.6" stroke-dasharray="8.62 3.04 1.22 2.64 1.22 3.55" stroke-linecap="butt"/>
</g>
<g stroke="none" font-size="8.6">
<text x="446.5" y="307.4" transform="translate(446.5 0) scale(0.93 1) translate(-446.5 0)">WT</text>
<text x="0" y="0" transform="translate(447.1 320.5) scale(0.93 1)" font-style="italic">Ampd3<tspan font-size="6.2" dy="-3.4">T689A</tspan><tspan dy="3.4">/+</tspan></text>
<text x="0" y="0" transform="translate(447.1 333.2) scale(0.93 1)" font-style="italic">Ampd3<tspan font-size="6.2" dy="-3.4">T689A</tspan></text>
</g>
</svg></body></html>
